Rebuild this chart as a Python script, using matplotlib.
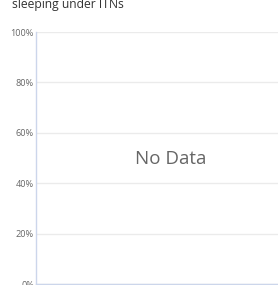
import matplotlib
matplotlib.use("Agg")
import matplotlib.pyplot as plt

title = "sleeping under ITNs"
y_ticks = [0, 20, 40, 60, 80, 100]
y_tick_labels = ["0%", "20%", "40%", "60%", "80%", "100%"]
no_data_text = "No Data"

W, H = 278, 285
dpi = 100
fig = plt.figure(figsize=(W / dpi, H / dpi), dpi=dpi)
fig.patch.set_facecolor("white")

left, right, top, bottom = 36, 278, 32, 284
ax = fig.add_axes([left / W, (H - bottom) / H, (right - left) / W, (bottom - top) / H])
ax.set_ylim(0, 100)
ax.set_xlim(0, 1)
ax.set_yticks(y_ticks)
ax.set_yticklabels(y_tick_labels, fontfamily="Open Sans", fontsize=6.6, color="#666666")
ax.set_xticks([])
ax.tick_params(axis="y", length=0, pad=1.5)
ax.grid(axis="y", color="#ebebeb", linewidth=1)
ax.set_axisbelow(True)
for s in ["top", "right"]:
    ax.spines[s].set_visible(False)
for s in ["left", "bottom"]:
    ax.spines[s].set_color("#ccd6eb")
    ax.spines[s].set_linewidth(1)

ax.text(0.558, (bottom - 164) / (bottom - top), no_data_text, transform=ax.transAxes,
        ha="center", va="baseline",
        fontfamily="Open Sans", fontsize=13.5, color="#666666")

fig.text(12 / W, 1 - 8.3 / H, title, ha="left", va="baseline",
         fontfamily="Open Sans", fontsize=8.7, color="#333333")

fig.savefig("out.png", dpi=dpi, facecolor="white")
